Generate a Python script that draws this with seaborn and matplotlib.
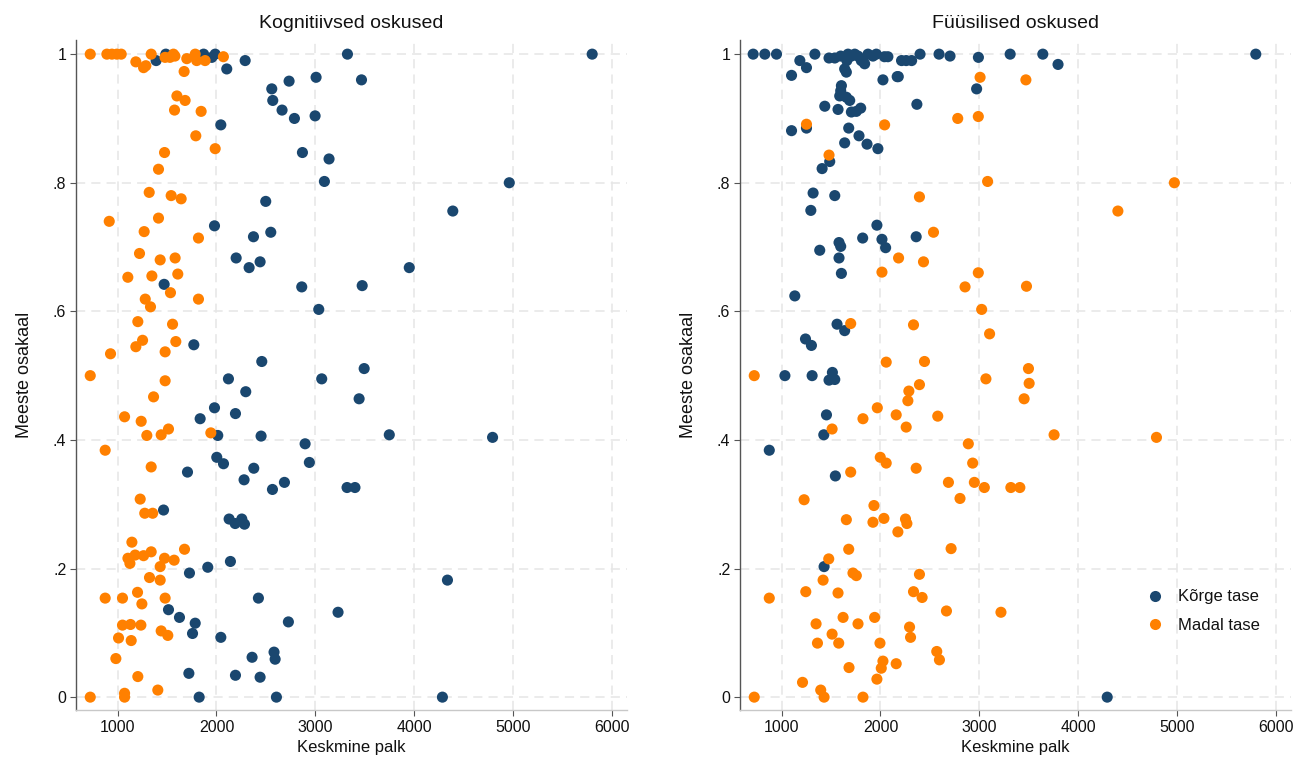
import matplotlib
matplotlib.use("Agg")
import matplotlib.pyplot as plt
import seaborn as sns
import pandas as pd

# ---------------- data ----------------
panel_titles = ["Kognitiivsed oskused", "Füüsilised oskused"]
level_labels = ["Kõrge tase", "Madal tase"]
x_label = "Keskmine palk"
y_label = "Meeste osakaal"
x_ticks = [1000, 2000, 3000, 4000, 5000, 6000]
y_ticks = [0, 0.2, 0.4, 0.6, 0.8, 1.0]
y_tick_labels = ["0", ".2", ".4", ".6", ".8", "1"]

cog_high_x = [1390, 1488, 1870, 1953, 1987, 2104, 2290, 3324, 5798, 3466, 2734, 3007, 2559,
              2569, 2663, 2788, 2997, 2044, 2869, 3138, 3091, 4960, 2498, 4389, 1980, 2549,
              2374, 2199, 2441, 2330, 3949, 1471, 2862, 3473, 3034, 1771, 2458, 3493, 2121,
              3064, 2296, 3442, 1835, 1980, 2192, 2013, 2451, 3747, 4791, 2896, 2939, 2003,
              2071, 2377, 1707, 2279, 2687, 2566, 3320, 3400, 1465, 2128, 2189, 2256, 2283,
              1727, 1912, 2141, 4335, 2424, 1515, 1626, 3229, 1785, 1758, 2727, 2044, 2360,
              2582, 2593, 1721, 2192, 2441, 1825, 2606, 4284]
cog_high_y = [.99, 1.0, 1.0, .995, 1.0, .977, .99, 1.0, 1.0, .96, .958, .964, .946,
              .928, .913, .9, .904, .89, .847, .837, .802, .8, .771, .756, .733, .723,
              .716, .683, .677, .668, .668, .642, .638, .64, .603, .548, .522, .511, .495,
              .495, .475, .464, .433, .45, .441, .407, .406, .408, .404, .394, .365, .373,
              .363, .356, .35, .338, .334, .323, .326, .326, .291, .277, .27, .277, .269,
              .193, .202, .211, .182, .154, .136, .124, .132, .115, .099, .117, .093, .062,
              .07, .059, .037, .034, .031, 0, 0, 0]

cog_low_x = [724, 892, 943, 993, 1037, 1185, 1263, 1286, 1340, 1480, 1530, 1565, 1580, 1700,
             1785, 1800, 1885, 2070, 1673, 1600, 1683, 1576, 1845, 1791, 1987, 1475, 1414,
             1320, 1542, 1643, 916, 1414, 1269, 1818, 1222, 1431, 1582, 1104, 1347, 1609,
             1535, 1280, 1333, 1818, 1205, 1556, 1185, 1253, 1589, 1481, 929, 724, 1481,
             1364, 1071, 1239, 1296, 1441, 1515, 1943, 875, 1340, 1229, 1275, 1355, 1145,
             1105, 1125, 1178, 1263, 1340, 1475, 1572, 1677, 1431, 1323, 1431, 875, 1050,
             1202, 1246, 1481, 1050, 1131, 1236, 1441, 1508, 1010, 1138, 983, 1205, 1407,
             724, 1071, 1071]
cog_low_y = [1.0, 1.0, 1.0, 1.0, 1.0, .988, .979, .982, 1.0, .995, .995, 1.0, .997, .993,
             1.0, .99, .99, .996, .973, .935, .928, .913, .911, .873, .853, .847, .821,
             .785, .78, .775, .74, .745, .724, .714, .69, .68, .683, .653, .655, .658,
             .629, .619, .607, .619, .584, .58, .545, .555, .553, .537, .534, .5, .492,
             .467, .436, .429, .407, .408, .417, .411, .384, .358, .308, .286, .286, .241,
             .216, .208, .221, .22, .226, .216, .213, .23, .203, .186, .182, .154, .154,
             .163, .145, .154, .112, .113, .112, .103, .096, .092, .088, .06, .032, .011,
             0, .006, 0]

phys_high_x = [713, 831, 949, 1337, 1480, 1538, 1598, 1672, 1706, 1740, 1773, 1806, 1840,
               1874, 1924, 1958, 2040, 2075, 1660, 1820, 1101, 1185, 1252, 1638, 1655, 2025,
               2169, 2972, 1605, 1598, 1588, 1655, 1689, 1437, 1571, 1706, 1756, 1800, 2368,
               1252, 1101, 1679, 1783, 1864, 1638, 1974, 1487, 1410, 1319, 1538, 1296, 1964,
               1820, 2015, 2052, 2361, 1581, 1598, 1386, 1581, 1605, 1134, 1561, 1638, 1242,
               1302, 1034, 1309, 1514, 1480, 1538, 1454, 1427, 876, 1544, 1430, 4292, 3311,
               3641, 3795, 5794, 2213, 2260, 2315, 2400, 2592, 2703, 2990, 2180]
phys_high_y = [1.0, 1.0, 1.0, 1.0, .994, .994, .997, 1.0, .997, 1.0, .997, .99, .985,
               1.0, .997, 1.0, .996, .996, .99, .99, .967, .99, .979, .977, .972, .96,
               .965, .946, .951, .943, .935, .933, .928, .919, .914, .91, .911, .916, .922,
               .885, .881, .885, .873, .86, .862, .853, .833, .822, .784, .78, .757, .734,
               .714, .712, .699, .716, .707, .701, .695, .683, .659, .624, .58, .57, .557,
               .547, .5, .5, .505, .493, .494, .439, .408, .384, .344, .203, 0, 1.0,
               1.0, .984, 1.0, .99, .99, .99, 1.0, 1.0, .997, .995, .965]

phys_low_x = [3007, 3470, 1252, 2042, 2781, 2989, 1480, 3083, 4971, 2394, 4400, 2536, 2183,
              2435, 2015, 2989, 2855, 3476, 3023, 1699, 2334, 3103, 2058, 2445, 3496, 3503,
              3452, 3755, 4790, 724, 3066, 2394, 2287, 2277, 1968, 1823, 2159, 2579, 2260,
              1511, 2888, 1998, 2058, 2361, 2932, 1699, 2687, 2949, 3050, 3318, 3409, 2804,
              1228, 1934, 1655, 1924, 2035, 2253, 2267, 2176, 2714, 1679, 1477, 1722, 1756,
              2394, 1420, 1245, 1571, 876, 2334, 2421, 2667, 3218, 1622, 1941, 1349, 1773,
              2294, 2304, 1511, 1578, 1363, 1995, 2569, 2596, 1682, 2025, 2008, 2159, 1964,
              1212, 1396, 1430, 724, 1823]
phys_low_y = [.964, .96, .891, .89, .9, .903, .843, .802, .8, .778, .756, .723, .683,
              .677, .661, .66, .638, .639, .603, .581, .579, .565, .521, .522, .511, .488,
              .464, .408, .404, .5, .495, .486, .476, .461, .45, .433, .439, .437, .42,
              .417, .394, .373, .364, .356, .364, .35, .334, .334, .326, .326, .326, .309,
              .307, .298, .276, .272, .278, .277, .27, .257, .231, .23, .215, .193, .189,
              .191, .182, .164, .162, .154, .164, .155, .134, .132, .124, .124, .114, .114,
              .109, .093, .098, .084, .084, .084, .071, .058, .046, .056, .045, .052, .028,
              .023, .011, 0, 0, 0]

panels = [(cog_high_x, cog_high_y, cog_low_x, cog_low_y),
          (phys_high_x, phys_high_y, phys_low_x, phys_low_y)]

# ---------------- style ----------------
sns.set_style("white")
plt.rcParams["font.family"] = ["Liberation Sans", "DejaVu Sans"]

BLUE = "#1a476f"
ORANGE = "#ff8000"
palette = {level_labels[0]: BLUE, level_labels[1]: ORANGE}

W, H = 1302, 774
fig = plt.figure(figsize=(W / 100, H / 100), dpi=100)
ax_boxes = [(76, 40, 551, 670), (740, 40, 551, 670)]

for i, ((hx, hy, lx, ly), (l, t, w, h)) in enumerate(zip(panels, ax_boxes)):
    ax = fig.add_axes([l / W, 1 - (t + h) / H, w / W, h / H])
    df = pd.DataFrame({
        "x": list(hx) + list(lx),
        "y": list(hy) + list(ly),
        "tase": [level_labels[0]] * len(hx) + [level_labels[1]] * len(lx),
    })
    sns.scatterplot(data=df, x="x", y="y", hue="tase", hue_order=level_labels,
                    palette=palette, s=64, linewidth=0, alpha=1, ax=ax,
                    legend=(i == 1), zorder=3)
    ax.set_xlim(580, 6150)
    ax.set_ylim(-0.02, 1.022)
    ax.set_xticks(x_ticks)
    ax.set_xticklabels([str(v) for v in x_ticks])
    ax.set_yticks(y_ticks)
    ax.set_yticklabels(y_tick_labels)
    ax.grid(True, color="#e6e6e6", linestyle=(0, (6, 4)), linewidth=1.1, zorder=0)
    ax.set_axisbelow(True)
    for side in ["top", "right"]:
        ax.spines[side].set_visible(False)
    ax.spines["left"].set_color("#555555")
    ax.spines["left"].set_linewidth(1.0)
    ax.spines["bottom"].set_color("#c8c8c8")
    ax.spines["bottom"].set_linewidth(1.0)
    ax.tick_params(axis="both", which="major", length=4, width=0.8, color="#555555",
                   labelsize=11.5, labelcolor="#111111", direction="out", pad=3,
                   left=True, bottom=True)
    ax.set_xlabel(x_label, fontsize=12, color="#111111", labelpad=4)
    ax.set_ylabel(y_label, fontsize=13, color="#111111", labelpad=14)
    ax.set_title(panel_titles[i], fontsize=14, color="#111111", pad=9)
    if i == 1:
        leg = ax.legend(loc="upper left", bbox_to_anchor=(0.71, 0.19), frameon=False,
                        fontsize=12, handletextpad=0.4, labelspacing=0.8,
                        borderaxespad=0, title=None)
        for txt in leg.get_texts():
            txt.set_color("#111111")

fig.savefig("out.png", dpi=100, facecolor="white")
